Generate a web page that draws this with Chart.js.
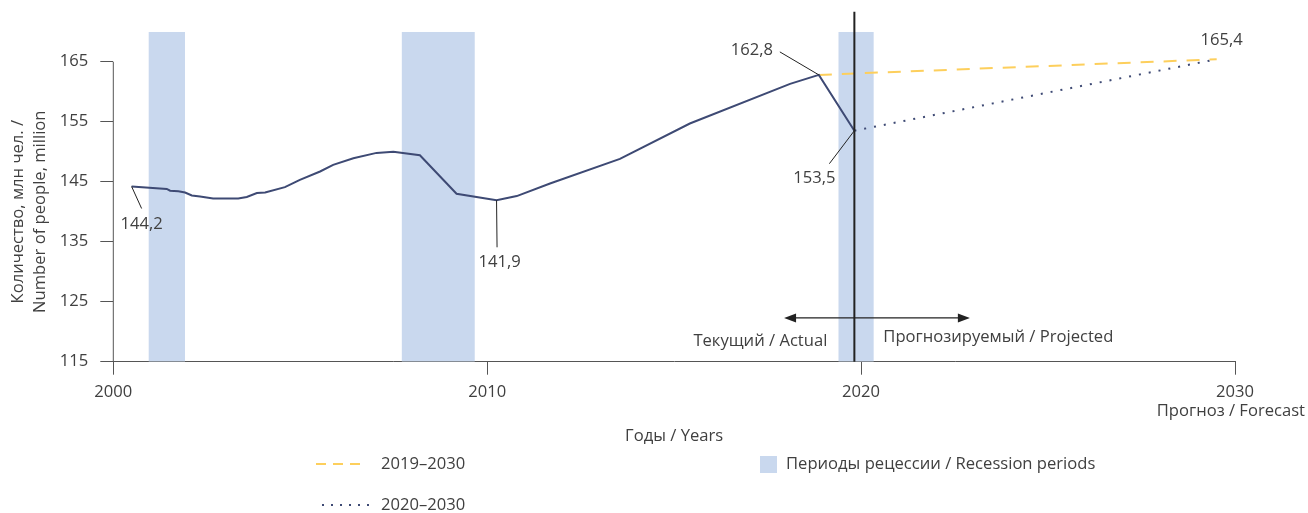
<!DOCTYPE html>
<html>
<head>
<meta charset="utf-8">
<script src="https://cdn.jsdelivr.net/npm/chart.js@4.4.1/dist/chart.umd.min.js"></script>
<style>
  html, body { margin: 0; background: #fff; }
  #wrap { width: 1308px; height: 513px; position: relative; }
</style>
</head>
<body>
<div id="wrap"><canvas id="popChart"></canvas></div>
<script>
// Фактические данные (годы / млн чел.)
const yearsActual = [2000.49, 2001.43, 2001.52, 2001.74, 2001.92, 2002.10, 2002.32, 2002.67, 2003.34, 2003.57,
  2003.84, 2004.06, 2004.59, 2004.99, 2005.53, 2005.88, 2006.42, 2007.04, 2007.49, 2008.20,
  2009.18, 2010.25, 2010.79, 2011.68, 2013.55, 2015.42, 2018.10, 2018.87, 2019.82];
const valuesActual = [144.2, 143.8, 143.5, 143.4, 143.2, 142.7, 142.55, 142.2, 142.2, 142.45,
  143.1, 143.2, 144.1, 145.3, 146.7, 147.8, 148.9, 149.8, 150.0, 149.4,
  143.0, 141.9, 142.6, 144.7, 148.8, 154.7, 161.3, 162.8, 153.5];

// Прогнозы
const years2019 = [2018.87, 2029.51];
const values2019 = [162.8, 165.4];
const years2020 = [2019.82, 2029.51];
const values2020 = [153.5, 165.4];

// Периоды рецессии
const recessionStart = [2000.94, 2007.71, 2019.39];
const recessionEnd = [2001.92, 2009.67, 2020.34];

// Оси
const xTicks = [2000, 2010, 2020, 2030];
const xTickLabels = ['2000', '2010', '2020', '2030'];
const forecastLabel = 'Прогноз / Forecast';
const yTicks = [115, 125, 135, 145, 155, 165];
const yMin = 115, yMax = 170;

const NAVY = '#3e4a74';
const YELLOW = '#fdcf5c';
const BAND = '#c9d8ee';
const TEXT = '#404040';
const FONT = '16.6px "Open Sans", sans-serif';

Chart.defaults.font.family = '"Open Sans", sans-serif';
Chart.defaults.font.size = 16.6;
Chart.defaults.color = TEXT;

const toXY = (xs, ys) => xs.map((x, i) => ({ x: x, y: ys[i] }));
const fmt = v => v.toFixed(1).replace('.', ',');

const datasets = [
  {
    label: 'Факт',
    data: toXY(yearsActual, valuesActual),
    borderColor: NAVY, borderWidth: 2, pointRadius: 0, order: 1
  },
  {
    label: '2019–2030',
    data: toXY(years2019, values2019),
    borderColor: YELLOW, borderWidth: 2, borderDash: [13, 10], pointRadius: 0, order: 2
  },
  {
    label: '2020–2030',
    data: toXY(years2020, values2020),
    borderColor: NAVY, borderWidth: 2, borderDash: [2, 8], pointRadius: 0, order: 2
  }
];
recessionStart.forEach((s, i) => {
  datasets.push({
    label: 'Периоды рецессии / Recession periods',
    data: [{ x: s, y: yMax }, { x: recessionEnd[i], y: yMax }],
    fill: 'start', backgroundColor: BAND,
    borderColor: 'rgba(0,0,0,0)', borderWidth: 0, pointRadius: 0, order: 5
  });
});

const extras = {
  id: 'extras',
  afterDatasetsDraw(chart) {
    const ctx = chart.ctx;
    const xs = chart.scales.x, ys = chart.scales.y;
    const px = v => xs.getPixelForValue(v);
    const py = v => ys.getPixelForValue(v);
    ctx.save();

    // ось Y (от 165 до 115)
    ctx.strokeStyle = '#555';
    ctx.lineWidth = 1;
    ctx.beginPath();
    ctx.moveTo(xs.left, py(yTicks[yTicks.length - 1]));
    ctx.lineTo(xs.left, py(yMin));
    ctx.stroke();

    // вертикальная линия: текущий год
    const divX = px(years2020[0]);
    ctx.strokeStyle = '#222';
    ctx.lineWidth = 2;
    ctx.beginPath();
    ctx.moveTo(divX, chart.chartArea.top - 20);
    ctx.lineTo(divX, py(yMin));
    ctx.stroke();

    // стрелка
    const ay = py(122.3);
    const a0 = px(2017.94), a1 = px(2022.91);
    ctx.strokeStyle = '#222';
    ctx.fillStyle = '#222';
    ctx.lineWidth = 1.3;
    ctx.beginPath();
    ctx.moveTo(a0 + 6, ay);
    ctx.lineTo(a1 - 6, ay);
    ctx.stroke();
    [[a0, 1], [a1, -1]].forEach(([x, d]) => {
      ctx.beginPath();
      ctx.moveTo(x, ay);
      ctx.lineTo(x + d * 12, ay - 4.5);
      ctx.lineTo(x + d * 12, ay + 4.5);
      ctx.closePath();
      ctx.fill();
    });

    ctx.font = FONT;
    ctx.fillStyle = TEXT;
    ctx.textBaseline = 'middle';
    ctx.textAlign = 'right';
    ctx.fillText('Текущий / Actual', divX - 27, ay + 23);
    ctx.textAlign = 'left';
    ctx.fillText('Прогнозируемый / Projected', divX + 29, ay + 19);

    // подписи значений с выносками
    const notes = [
      { x: yearsActual[0], y: valuesActual[0], lx: 10, ly: 22, tx: 10, ty: 38 },
      { x: yearsActual[21], y: valuesActual[21], lx: 0.5, ly: 47, tx: 3, ty: 62 },
      { x: yearsActual[27], y: valuesActual[27], lx: -39, ly: -23, tx: -67, ty: -25 },
      { x: yearsActual[28], y: valuesActual[28], lx: -25, ly: 33, tx: -40, ty: 48 },
      { x: years2019[1], y: values2019[1], tx: 5, ty: -19 }
    ];
    ctx.strokeStyle = '#222';
    ctx.lineWidth = 1;
    ctx.textAlign = 'center';
    notes.forEach(n => {
      const x = px(n.x), y = py(n.y);
      if (n.lx !== undefined) {
        ctx.beginPath();
        ctx.moveTo(x, y);
        ctx.lineTo(x + n.lx, y + n.ly);
        ctx.stroke();
      }
      ctx.fillText(fmt(n.y), x + n.tx, y + n.ty);
    });

    ctx.restore();
  },
  afterDraw(chart) {
    const ctx = chart.ctx;
    const xs = chart.scales.x, ys = chart.scales.y;
    ctx.save();
    ctx.font = FONT;
    ctx.fillStyle = TEXT;
    ctx.textBaseline = 'middle';

    // подпись под 2030
    ctx.textAlign = 'right';
    ctx.fillText(forecastLabel, 1305, 411);

    // заголовок оси X
    ctx.textAlign = 'center';
    ctx.fillText('Годы / Years', (xs.left + xs.right) / 2, 436);

    // заголовок оси Y
    const cy = (ys.getPixelForValue(yTicks[0]) + ys.getPixelForValue(yTicks[yTicks.length - 1])) / 2;
    ctx.translate(18, cy);
    ctx.rotate(-Math.PI / 2);
    ctx.fillText('Количество, млн чел. /', 0, 0);
    ctx.fillText('Number of people, million', 0, 22);
    ctx.setTransform(1, 0, 0, 1, 0, 0);
    ctx.scale(chart.currentDevicePixelRatio, chart.currentDevicePixelRatio);

    // легенда
    const ds = chart.data.datasets;
    ctx.lineWidth = 2;
    ctx.strokeStyle = ds[1].borderColor;
    ctx.setLineDash([10, 7]);
    ctx.beginPath(); ctx.moveTo(316, 464); ctx.lineTo(360, 464); ctx.stroke();
    ctx.strokeStyle = ds[2].borderColor;
    ctx.setLineDash([2, 7]);
    ctx.beginPath(); ctx.moveTo(322, 505); ctx.lineTo(374, 505); ctx.stroke();
    ctx.setLineDash([]);
    ctx.fillStyle = BAND;
    ctx.fillRect(760, 456, 17, 17);

    ctx.fillStyle = TEXT;
    ctx.textAlign = 'left';
    ctx.fillText(ds[1].label, 381, 464);
    ctx.fillText(ds[2].label, 381, 505);
    ctx.fillText(ds[3].label, 786, 464);
    ctx.restore();
  }
};

new Chart(document.getElementById('popChart'), {
  type: 'line',
  data: { datasets: datasets },
  options: {
    responsive: true,
    maintainAspectRatio: false,
    animation: false,
    layout: { padding: { left: 0, right: 73, top: 31.7, bottom: 0 } },
    plugins: {
      legend: { display: false },
      tooltip: { enabled: false }
    },
    scales: {
      x: {
        type: 'linear',
        min: 2000,
        max: 2030,
        afterBuildTicks: scale => { scale.ticks = xTicks.map(v => ({ value: v })); },
        afterFit: scale => { scale.height = 151.3; scale.paddingLeft = 0; scale.paddingRight = 0; },
        ticks: {
          autoSkip: false,
          maxRotation: 0,
          padding: 7,
          callback: (value, index) => xTickLabels[index],
          font: { size: 16.6, lineHeight: 1.28 }
        },
        grid: { drawOnChartArea: false, tickLength: 13, color: '#555' },
        border: { color: '#555' }
      },
      y: {
        type: 'linear',
        min: yMin,
        max: yMax,
        afterBuildTicks: scale => { scale.ticks = yTicks.map(v => ({ value: v })); },
        afterFit: scale => { scale.width = 113.3; scale.paddingTop = 0; scale.paddingBottom = 0; },
        ticks: { padding: 12 },
        grid: { drawOnChartArea: false, tickLength: 13, color: '#555' },
        border: { display: false }
      }
    }
  },
  plugins: [extras]
});
</script>
</body>
</html>
